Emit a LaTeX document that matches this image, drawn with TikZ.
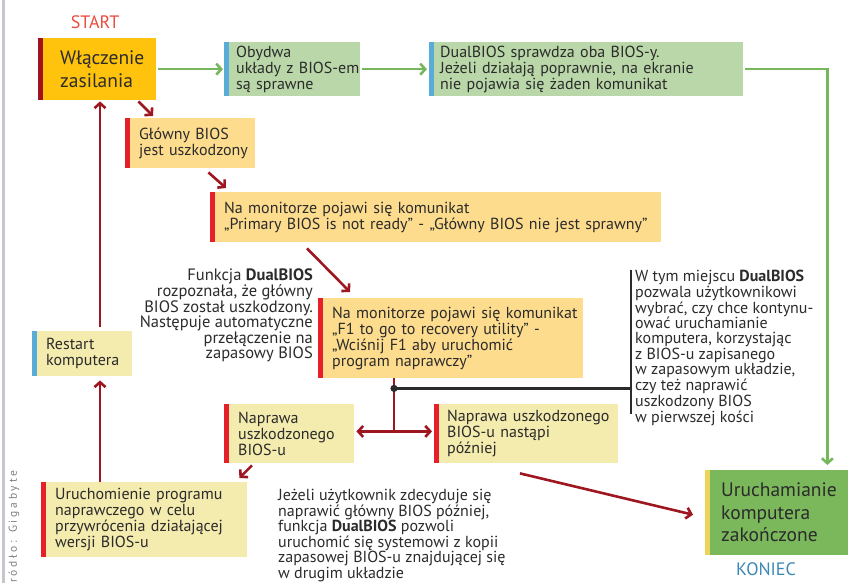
\documentclass[tikz,border=0pt]{standalone}
\usepackage{fontspec}
\setmainfont{PT Sans}
\newfontfamily\creditfont[LetterSpace=24]{PT Sans}
\usetikzlibrary{arrows.meta,positioning}

\definecolor{ink}{HTML}{2B2B2B}
\definecolor{gold}{HTML}{FFC30D}
\definecolor{darkred}{HTML}{A0121C}
\definecolor{flagred}{HTML}{E5202A}
\definecolor{sky}{HTML}{5AACD8}
\definecolor{sage}{HTML}{B9D7A8}
\definecolor{apricot}{HTML}{FDDC8E}
\definecolor{cream}{HTML}{F4EBAF}
\definecolor{leaf}{HTML}{7BB85C}
\definecolor{straw}{HTML}{EBD45A}
\definecolor{arrowred}{HTML}{9E1620}
\definecolor{arrowgreen}{HTML}{77B75B}
\definecolor{startred}{HTML}{EA4B3C}
\definecolor{endblue}{HTML}{3C88B4}
\definecolor{rulegray}{HTML}{C6C6CC}

\begin{document}
\begin{tikzpicture}[x=1pt,y=-1pt,>={Straight Barb[length=5pt,width=11pt]}]
  \tikzset{dims/.style 2 args={minimum width=#1,minimum height=#2,text width=#1}}
  \tikzstyle{pad}=[execute at begin node={\leftskip=#1\rightskip=-30pt plus 1fil}]
  \tikzstyle{box}=[rectangle,anchor=north west,inner sep=0pt,align=left,text=ink,
                   font=\fontsize{16}{16}\selectfont,pad=14pt]
  \tikzstyle{bar}=[path picture={\fill[#1] (path picture bounding box.north west)
                   rectangle ([xshift=5pt]path picture bounding box.south west);}]
  \tikzstyle{gold box}=[box,fill=gold,bar=darkred,font=\fontsize{19.5}{23}\selectfont]
  \tikzstyle{green box}=[box,fill=sage,bar=sky]
  \tikzstyle{alert box}=[box,fill=apricot,bar=flagred]
  \tikzstyle{cream box}=[box,fill=cream,bar=flagred]
  \tikzstyle{end box}=[box,fill=leaf,bar=straw,font=\fontsize{19.5}{22.5}\selectfont]
  \tikzstyle{remark}=[inner sep=0pt,text=ink,font=\fontsize{16}{15.6}\selectfont]
  \tikzstyle{go}=[draw=arrowgreen,line width=2.6pt,->]
  \tikzstyle{fail}=[draw=arrowred,line width=2.6pt,->]
  \tikzstyle{choice}=[draw=ink,line width=2.4pt]

  \useasboundingbox (0,0) rectangle (848,583);
  \fill[rulegray] (2,0) rectangle (5,583);

  \node[text=startred,font=\fontsize{18}{20}\selectfont] (start) at (95,22) {START};
  \node[gold box,dims={118pt}{62pt},pad=22pt] (power) at (38,38)
    {Włączenie\\zasilania};
  \node[green box,dims={136pt}{54pt},pad=12pt] (bypass) at (224,42)
    {Obydwa\\układy z BIOS-em\\są sprawne};
  \node[green box,dims={314pt}{54pt},pad=11pt] (check) at (429,42)
    {DualBIOS sprawdza oba BIOS-y.\\Jeżeli działają poprawnie, na ekranie\\nie pojawia się żaden komunikat};
  \node[alert box,dims={130pt}{50pt}] (broken) at (125,118)
    {Główny BIOS\\jest uszkodzony};
  \node[alert box,dims={451pt}{50pt}] (primary) at (210,192)
    {Na monitorze pojawi się komunikat\\„Primary BIOS is not ready” - „Główny BIOS nie jest sprawny”};
  \node[alert box,dims={265pt}{80pt}] (recovery) at (318,298)
    {Na monitorze pojawi się komunikat\\„F1 to go to recovery utility” -\\„Wciśnij F1 aby uruchomić\\program naprawczy”};
  \node[box,fill=cream,bar=sky,dims={100pt}{45pt}] (restart) at (32,331)
    {Restart\\komputera};
  \node[cream box,dims={130pt}{59pt}] (repair) at (224,404)
    {Naprawa\\uszkodzonego\\BIOS-u};
  \node[cream box,dims={184pt}{59pt},pad=13pt] (later) at (434,404)
    {Naprawa uszkodzonego\\BIOS-u nastąpi\\później};
  \node[cream box,dims={206pt}{75pt}] (rescue) at (41,482)
    {Uruchomienie programu\\naprawczego w celu\\przywrócenia działającej\\wersji BIOS-u};
  \node[end box,dims={143pt}{85pt},pad=16pt] (finish) at (705,470)
    {Uruchamianie\\komputera\\zakończone};
  \node[text=endblue,font=\fontsize{18}{20}\selectfont] (stop) at (766,569) {KONIEC};

  \node[remark,anchor=north east,align=right,font=\fontsize{16.5}{15.6}\selectfont] (detect) at (313,269)
    {Funkcja \textbf{DualBIOS}\\rozpoznała, że główny\\BIOS został uszkodzony.\\Następuje automatyczne\\przełączenie na\\zapasowy BIOS};
  \node[remark,anchor=north west,align=left,inner xsep=4pt,font=\fontsize{16}{14.4}\selectfont] (note) at (631,270)
    {W tym miejscu \textbf{DualBIOS}\\pozwala użytkownikowi\\wybrać, czy chce kontynu-\\ować uruchamianie\\komputera, korzystając\\z BIOS-u zapisanego\\w zapasowym układzie,\\czy też naprawić\\uszkodzony BIOS\\w pierwszej kości};
  \node[remark,anchor=north west,align=left] (fallback) at (278,489)
    {Jeżeli użytkownik zdecyduje się\\naprawić główny BIOS później,\\funkcja \textbf{DualBIOS} pozwoli\\uruchomić się systemowi z kopii\\zapasowej BIOS-u znajdującej się\\w drugim układzie};
  \node[rotate=90,anchor=west,inner sep=0pt,text=gray,font=\creditfont\fontsize{11.5}{13}\selectfont] (source) at (14,583)
    {ródło: Gigabyte};

  \coordinate (trunk) at (100,0);
  \coordinate (fork) at ([xshift=76pt,yshift=-10pt]recovery.south west);
  \coordinate (split) at ([xshift=76pt,yshift=-53pt]recovery.south west);

  \draw[go,shorten <=2pt,shorten >=1pt] (power.east) -- (bypass.west);
  \draw[go,shorten <=2pt,shorten >=2pt] (bypass.east) -- (check.west);
  \draw[go,shorten <=2pt,shorten >=5pt] (check.east) -| ([xshift=-21pt]finish.north east);

  \draw[fail] ([xshift=-18pt,yshift=-1pt]power.south east) -- ([xshift=28pt,yshift=2pt]broken.north west);
  \draw[fail] ([xshift=-47pt,yshift=-4pt]broken.south east) -- ([xshift=16pt,yshift=4pt]primary.north west);
  \draw[fail] ([xshift=97pt,yshift=-6pt]primary.south west) -- ([xshift=32pt,yshift=6pt]recovery.north west);
  \draw[fail,-] (fork |- recovery.south) -- (split);
  \draw[fail,<->,shorten <=2pt,shorten >=2pt] (split -| repair.east) -- (split -| later.west);
  \draw[choice] (fork) -- (fork -| note.west);
  \draw[choice] (note.north west) -- ([yshift=12pt]note.south west);
  \fill[ink] (fork) circle (3.6pt);
  \draw[fail] ([xshift=28pt,yshift=-2pt]repair.south west) -- ([xshift=-8pt,yshift=4pt]rescue.north east);
  \draw[fail,shorten >=4pt] (trunk |- rescue.north) -- (trunk |- restart.south);
  \draw[fail,shorten <=4pt,shorten >=1pt] (trunk |- restart.north) -- (trunk |- power.south);
  \draw[fail] ([xshift=86pt,yshift=-10pt]later.south west) -- ([xshift=-12pt,yshift=-2pt]finish.west);
\end{tikzpicture}
\end{document}
